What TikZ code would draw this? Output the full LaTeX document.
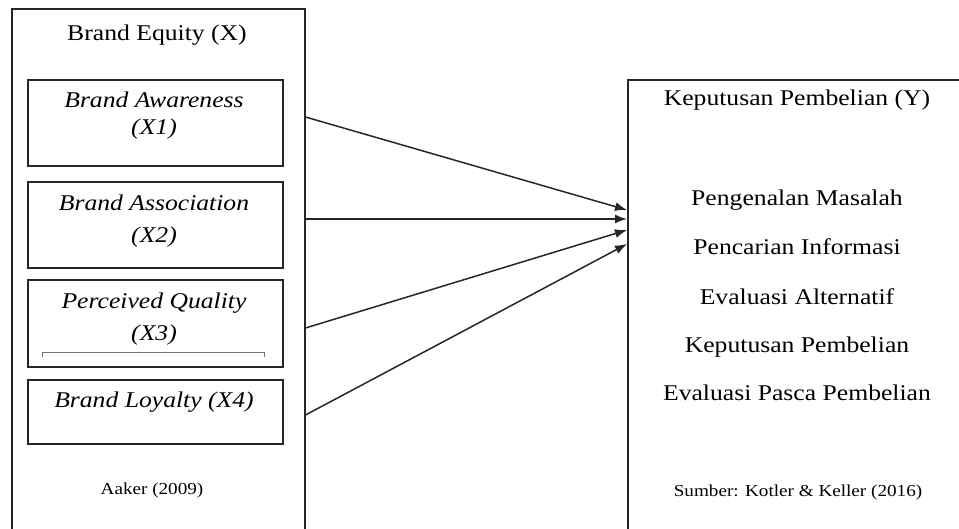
\documentclass[tikz,border=0pt]{standalone}
\usepackage{fontspec}
\setmainfont{Liberation Serif}[FakeStretch=1.14]
\usetikzlibrary{arrows.meta}
\begin{document}
\begin{tikzpicture}[x=1pt,y=-1pt,
  box/.style={draw=black!85,line width=1.5pt,inner sep=0pt,anchor=north west},
  inbox/.style={draw=black!85,line width=1.5pt,inner sep=0pt,anchor=north west,minimum width=255pt},
  txt/.style={anchor=base,inner sep=0pt,font=\fontsize{22.5}{26}\selectfont},
  itxt/.style={txt,font=\fontsize{22.5}{26}\selectfont\itshape},
  small/.style={anchor=base,inner sep=0pt,font=\fontsize{16.8}{20}\selectfont},
  arr/.style={line width=1.5pt,draw=black!85,-{Latex[length=12pt,width=9pt]}}]
\useasboundingbox (0,0) rectangle (959,528);
\clip (0,0) rectangle (959,528);
% outer boxes
\node[box,minimum width=293pt,minimum height=560pt] (X) at (11,8) {};
\node[box,minimum width=400pt,minimum height=500pt] (Y) at (627,79) {};
% inner boxes
\node[inbox,minimum height=86pt] (x1) at (27,79) {};
\node[inbox,minimum height=86pt] (x2) at (27,181) {};
\node[inbox,minimum height=87pt] (x3) at (27,279) {};
\node[inbox,minimum height=64pt] (x4) at (27,379) {};
% left texts
\node[txt] (tX) at (157,40) {Brand Equity (X)};
\node[itxt] (t1a) at (154,107) {Brand Awareness};
\node[itxt] (t1b) at (154,134) {(X1)};
\node[itxt] (t2a) at (154,210) {Brand Association};
\node[itxt] (t2b) at (154,242) {(X2)};
\node[itxt] (t3a) at (154,308) {Perceived Quality};
\node[itxt] (t3b) at (154,340) {(X3)};
\node[itxt] (t4) at (154,407) {Brand Loyalty (X4)};
\draw[black!55,line width=0.8pt] (42,357) -- (42,352) -- (264,352) -- (264,357);
\node[small] (aaker) at (152,494) {Aaker (2009)};
% right texts
\node[txt] (tY) at (797,105) {Keputusan Pembelian (Y)};
\node[txt] (y1) at (797,205) {Pengenalan Masalah};
\node[txt] (y2) at (797,254) {Pencarian Informasi};
\node[txt] (y3) at (797,304) {Evaluasi Alternatif};
\node[txt] (y4) at (797,352) {Keputusan Pembelian};
\node[txt] (y5) at (797,400) {Evaluasi Pasca Pembelian};
\node[small] (src) at (798,496) {Sumber: Kotler \& Keller (2016)};
% connectors
\coordinate (s1) at (X.north east |- 0,117);
\coordinate (s2) at (X.north east |- 0,219);
\coordinate (s3) at (X.north east |- 0,328);
\coordinate (s4) at (X.north east |- 0,415);
\coordinate (e1) at (Y.north west |- 0,210);
\coordinate (e2) at (Y.north west |- 0,219);
\coordinate (e3) at (Y.north west |- 0,230);
\coordinate (e4) at (Y.north west |- 0,244);
\draw[arr] (s1) -- (e1);
\draw[arr] (s2) -- (e2);
\draw[arr] (s3) -- (e3);
\draw[arr] (s4) -- (e4);
\end{tikzpicture}
\end{document}
